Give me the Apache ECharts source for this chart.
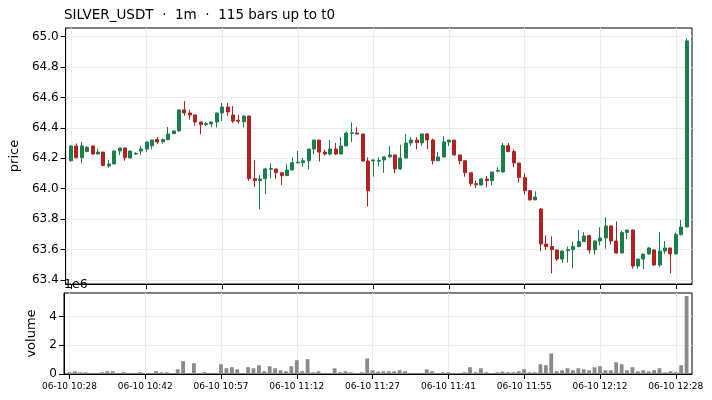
<!DOCTYPE html>
<html>
<head>
<meta charset="utf-8">
<title>SILVER_USDT 1m</title>
<script src="https://cdn.jsdelivr.net/npm/echarts@6/dist/echarts.min.js"></script>
<style>
  html, body { margin: 0; padding: 0; background: #fff; }
  #chart { width: 712px; height: 400px; }
</style>
</head>
<body>
<div id="chart"></div>
<script>
// bar times (06-10), a few minutes have no bar
const times = [
  "10:28","10:29","10:30","10:31","10:32","10:33","10:34","10:35","10:36","10:37",
  "10:38","10:39","10:40","10:41","10:42","10:43","10:44","10:45","10:46","10:47",
  "10:48","10:49","10:51","10:52","10:53","10:54","10:55","10:56","10:57","10:58",
  "10:59","11:00","11:01","11:02","11:03","11:05","11:06","11:07","11:08","11:09",
  "11:10","11:11","11:12","11:13","11:14","11:15","11:16","11:17","11:18","11:19",
  "11:20","11:22","11:23","11:24","11:25","11:26","11:27","11:28","11:29","11:30",
  "11:31","11:32","11:33","11:34","11:35","11:36","11:37","11:38","11:39","11:40",
  "11:41","11:42","11:43","11:44","11:45","11:46","11:47","11:48","11:49","11:50",
  "11:51","11:52","11:53","11:54","11:55","11:56","11:57","11:58","11:59","12:01",
  "12:02","12:03","12:04","12:06","12:07","12:08","12:10","12:11","12:12","12:13",
  "12:14","12:15","12:16","12:17","12:19","12:20","12:21","12:22","12:23","12:25",
  "12:26","12:27","12:28","12:29","12:30"
];

const opens = [
  64.184,64.281,64.204,64.245,64.281,64.228,64.241,64.149,64.163,64.248,
  64.268,64.202,64.228,64.248,64.261,64.283,64.323,64.309,64.323,64.362,
  64.380,64.518,64.498,64.485,64.439,64.421,64.426,64.439,64.498,64.537,
  64.485,64.450,64.441,64.478,64.066,64.053,64.066,64.128,64.130,64.105,
  64.086,64.123,64.170,64.171,64.184,64.261,64.320,64.241,64.228,64.261,
  64.228,64.281,64.364,64.366,64.360,64.182,64.182,64.180,64.189,64.209,
  64.222,64.130,64.202,64.301,64.320,64.301,64.360,64.320,64.184,64.209,
  64.307,64.320,64.222,64.184,64.105,64.033,64.024,64.064,64.053,64.115,
  64.110,64.283,64.244,64.169,64.073,63.987,63.926,63.866,63.636,63.619,
  63.597,63.537,63.593,63.599,63.619,63.652,63.691,63.597,63.656,63.676,
  63.755,63.656,63.577,63.711,63.728,63.491,63.537,63.570,63.597,63.498,
  63.590,63.610,63.571,63.698,63.748
];

const highs = [
  64.285,64.298,64.307,64.280,64.281,64.263,64.241,64.190,64.250,64.268,
  64.268,64.250,64.240,64.283,64.310,64.320,64.340,64.329,64.406,64.382,
  64.520,64.577,64.520,64.485,64.440,64.439,64.440,64.500,64.564,64.564,
  64.544,64.485,64.480,64.478,64.187,64.090,64.138,64.167,64.130,64.105,
  64.160,64.206,64.248,64.202,64.261,64.320,64.320,64.257,64.320,64.301,
  64.340,64.377,64.437,64.404,64.360,64.206,64.190,64.206,64.210,64.281,
  64.222,64.288,64.360,64.340,64.338,64.360,64.366,64.330,64.241,64.345,
  64.320,64.320,64.222,64.184,64.105,64.051,64.070,64.084,64.110,64.141,
  64.301,64.300,64.257,64.169,64.101,63.990,63.983,63.873,63.693,63.687,
  63.600,63.590,63.619,63.652,63.728,63.713,63.698,63.660,63.746,63.812,
  63.756,63.785,63.722,63.730,63.730,63.540,63.570,63.616,63.600,63.715,
  63.656,63.610,63.711,63.794,64.989
];

const lows = [
  64.178,64.200,64.167,64.240,64.222,64.224,64.148,64.138,64.160,64.222,
  64.184,64.200,64.222,64.222,64.239,64.259,64.294,64.296,64.318,64.358,
  64.376,64.480,64.454,64.415,64.358,64.413,64.404,64.402,64.445,64.480,
  64.432,64.428,64.404,64.051,64.011,63.864,63.965,64.068,64.064,64.024,
  64.083,64.120,64.167,64.145,64.127,64.226,64.178,64.217,64.219,64.222,
  64.226,64.278,64.305,64.357,64.178,63.882,64.079,64.145,64.105,64.205,
  64.101,64.125,64.200,64.281,64.259,64.281,64.261,64.160,64.180,64.205,
  64.281,64.218,64.160,64.079,64.018,64.005,64.020,64.009,64.022,64.108,
  64.108,64.240,64.141,64.040,63.963,63.922,63.925,63.588,63.597,63.443,
  63.524,63.513,63.513,63.476,63.615,63.650,63.573,63.566,63.627,63.605,
  63.632,63.571,63.575,63.667,63.474,63.474,63.470,63.568,63.491,63.487,
  63.571,63.443,63.568,63.691,63.745
];

const closes = [
  64.281,64.204,64.281,64.272,64.228,64.241,64.152,64.163,64.248,64.268,
  64.204,64.248,64.232,64.261,64.307,64.320,64.307,64.323,64.360,64.380,
  64.518,64.498,64.485,64.439,64.421,64.428,64.439,64.498,64.537,64.505,
  64.445,64.444,64.478,64.066,64.053,64.064,64.130,64.132,64.105,64.086,
  64.123,64.171,64.175,64.184,64.261,64.320,64.241,64.228,64.261,64.228,
  64.281,64.366,64.368,64.360,64.182,63.987,64.189,64.185,64.209,64.222,
  64.130,64.202,64.301,64.320,64.303,64.360,64.320,64.184,64.209,64.307,
  64.320,64.222,64.184,64.105,64.033,64.026,64.064,64.053,64.110,64.120,
  64.283,64.244,64.169,64.073,63.987,63.926,63.945,63.636,63.619,63.599,
  63.537,63.590,63.599,63.619,63.652,63.689,63.597,63.656,63.676,63.755,
  63.656,63.577,63.711,63.728,63.491,63.537,63.570,63.610,63.498,63.590,
  63.610,63.571,63.698,63.748,64.972
];

const volumes = [
  120000,190000,120000,120000,0,0,120000,190000,190000,0,
  120000,0,0,120000,0,0,190000,120000,120000,0,
  330000,890000,0,750000,0,120000,0,0,680000,400000,
  470000,330000,0,470000,400000,610000,190000,540000,400000,260000,
  190000,540000,960000,190000,1030000,120000,190000,0,0,400000,
  120000,190000,120000,0,120000,1080000,260000,160000,190000,190000,
  190000,260000,190000,0,0,0,330000,190000,0,120000,
  120000,0,0,120000,470000,120000,400000,120000,0,120000,
  160000,120000,120000,190000,330000,120000,120000,680000,610000,1430000,
  190000,260000,400000,260000,400000,330000,260000,470000,540000,260000,
  260000,820000,680000,260000,470000,190000,260000,190000,260000,400000,
  120000,190000,120000,610000,5430000
];

const datePrefix = "06-10 ";
const priceTicks = [63.4, 63.6, 63.8, 64.0, 64.2, 64.4, 64.6, 64.8, 65.0];
const volumeTicks = [0, 2000000, 4000000];
const tickEvery = 14;

const UP = "#1b7f4c";
const DOWN = "#b22222";
const GRID_LINE = "#ececec";
const FONT = "DejaVu Sans";

// one empty slot on each side so the first/last bar sit off the frame
const categories = [""].concat(times, [""]);

const rows = times.map((t, i) => [t, opens[i], closes[i], lows[i], highs[i], volumes[i]]);

function isTick(idx) {
  return idx >= 1 && idx <= times.length && (idx - 1) % tickEvery === 0;
}

function xAxisFor(gridIndex, withLabels) {
  return {
    type: "category",
    gridIndex,
    data: categories,
    boundaryGap: false,
    axisLine: { show: true, lineStyle: { color: "#000", width: 1 } },
    axisTick: {
      show: true,
      interval: isTick,
      length: 5,
      lineStyle: { color: "#000", width: 1 },
    },
    axisLabel: {
      show: withLabels,
      interval: isTick,
      formatter: (v) => datePrefix + v,
      fontFamily: FONT,
      fontSize: 9,
      color: "#000",
      margin: 8,
    },
    splitLine: {
      show: true,
      interval: isTick,
      lineStyle: { color: GRID_LINE, width: 1 },
    },
  };
}

const chart = echarts.init(document.getElementById("chart"), null, { renderer: "canvas" });

chart.setOption({
  animation: false,
  backgroundColor: "#fff",
  title: [
    {
      text: "SILVER_USDT  \u00b7  1m  \u00b7  115 bars up to t0",
      left: 59,
      top: 3,
      textStyle: { fontFamily: FONT, fontSize: 13.5, fontWeight: "normal", color: "#000" },
    },
    {
      text: "1e6",
      left: 59,
      top: 273,
      textStyle: { fontFamily: FONT, fontSize: 12.5, fontWeight: "normal", color: "#000" },
    },
  ],
  dataset: { source: rows },
  grid: [
    { left: 64, right: 20, top: 28, height: 256, show: true, borderColor: "#000", borderWidth: 1, backgroundColor: "transparent" },
    { left: 64, right: 20, top: 293, height: 81, show: true, borderColor: "#000", borderWidth: 1, backgroundColor: "transparent" },
  ],
  xAxis: [xAxisFor(0, false), xAxisFor(1, true)],
  yAxis: [
    {
      type: "value",
      gridIndex: 0,
      min: 63.373,
      max: 65.057,
      scale: true,
      name: "price",
      nameLocation: "middle",
      nameRotate: 90,
      nameGap: 40,
      nameTextStyle: { fontFamily: FONT, fontSize: 13, color: "#000" },
      axisLine: { show: true, lineStyle: { color: "#000", width: 1 } },
      axisTick: { show: true, customValues: priceTicks, length: 5, lineStyle: { color: "#000" } },
      axisLabel: {
        customValues: priceTicks,
        formatter: (v) => v.toFixed(1),
        fontFamily: FONT,
        fontSize: 12,
        color: "#000",
        margin: 7,
      },
      splitLine: { show: true, lineStyle: { color: GRID_LINE, width: 1 } },
    },
    {
      type: "value",
      gridIndex: 1,
      min: 0,
      max: 5640000,
      name: "volume",
      nameLocation: "middle",
      nameRotate: 90,
      nameGap: 24,
      nameTextStyle: { fontFamily: FONT, fontSize: 13, color: "#000" },
      axisLine: { show: true, lineStyle: { color: "#000", width: 1 } },
      axisTick: { show: true, customValues: volumeTicks, length: 5, lineStyle: { color: "#000" } },
      axisLabel: {
        customValues: volumeTicks,
        formatter: (v) => String(Math.round(v / 1e6)),
        fontFamily: FONT,
        fontSize: 12,
        color: "#000",
        margin: 7,
      },
      splitLine: { show: true, lineStyle: { color: GRID_LINE, width: 1 } },
    },
  ],
  series: [
    {
      type: "candlestick",
      xAxisIndex: 0,
      yAxisIndex: 0,
      encode: { x: 0, y: [1, 2, 3, 4] },
      barWidth: 3.4,
      itemStyle: {
        color: UP,
        color0: DOWN,
        borderColor: UP,
        borderColor0: DOWN,
        borderColorDoji: UP,
        borderWidth: 1,
      },
    },
    {
      type: "bar",
      xAxisIndex: 1,
      yAxisIndex: 1,
      encode: { x: 0, y: 5 },
      barWidth: 3.8,
      itemStyle: { color: "#8a8a8a" },
    },
  ],
});

window.addEventListener("resize", () => chart.resize());
</script>
</body>
</html>
